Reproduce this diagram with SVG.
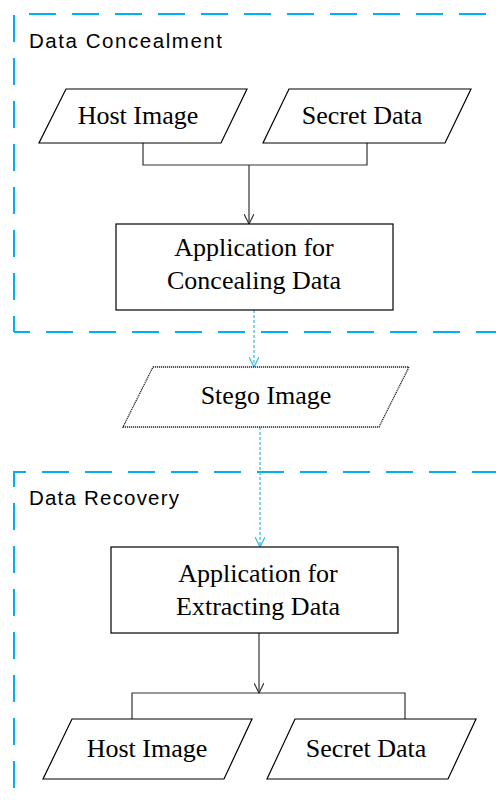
<svg xmlns="http://www.w3.org/2000/svg" width="496" height="800" viewBox="0 0 496 800">
<style>
.grp{fill:none;stroke:#00B0F0;stroke-width:2;stroke-dasharray:27 16;}
.lbl{font-family:"Liberation Sans","DejaVu Sans",sans-serif;font-size:20.5px;fill:#000;}
.shape{fill:#fff;stroke:#000;stroke-width:1.2;}
.dot{fill:#fff;stroke:#222;stroke-width:1.3;stroke-dasharray:1.2 0.8;}
.t{font-family:"Liberation Serif","Times New Roman",serif;font-size:26px;fill:#000;text-anchor:middle;}
.con{fill:none;stroke:#333;stroke-width:1.2;}
.dcon{fill:none;stroke:#2EB8F0;stroke-width:1.2;stroke-dasharray:3 2;}
</style>
<defs>
<marker id="arr" markerWidth="12" markerHeight="10" refX="10" refY="5" orient="auto" markerUnits="userSpaceOnUse">
<path d="M0,0 L10,5 L0,10" fill="none" stroke="#333" stroke-width="1.2"/>
</marker>
<marker id="arrb" markerWidth="12" markerHeight="10" refX="10" refY="5" orient="auto" markerUnits="userSpaceOnUse">
<path d="M0,0 L10,5 L0,10" fill="none" stroke="#2EB8F0" stroke-width="1.2"/>
</marker>
</defs>

<g id="group-concealment">
<path class="grp" d="M14,332 V14 H620" stroke-dashoffset="11"/>
<path class="grp" d="M14,332 H620" stroke-dashoffset="11"/>
<text class="lbl" x="29" y="48" textLength="193" lengthAdjust="spacing">Data Concealment</text>
</g>

<g id="group-recovery">
<path class="grp" d="M14,820 V472 H620" stroke-dashoffset="11"/>
<text class="lbl" x="29" y="505" textLength="150" lengthAdjust="spacing">Data Recovery</text>
</g>

<g id="connectors">
<path class="con" d="M143,143 V165 H367 V143"/>
<path class="con" d="M249,165 V224" marker-end="url(#arr)"/>
<path class="dcon" d="M254,310 V367" marker-end="url(#arrb)"/>
<path class="dcon" d="M260,427 V547" marker-end="url(#arrb)"/>
<path class="con" d="M259,633 V693" marker-end="url(#arr)"/>
<path class="con" d="M132,719 V693 H405 V719"/>
</g>

<g id="host-image-in">
<polygon class="shape" points="66,89 247,89 221,143 39,143"/>
<text class="t" x="138" y="124">Host Image</text>
</g>

<g id="secret-data-in">
<polygon class="shape" points="289,89 471,89 445,143 263,143"/>
<text class="t" x="362" y="124">Secret Data</text>
</g>

<g id="conceal-app">
<rect class="shape" x="116" y="224" width="277" height="86"/>
<text class="t" x="254" y="256">Application for</text>
<text class="t" x="254" y="289">Concealing Data</text>
</g>

<g id="stego-image">
<polygon class="dot" points="153,367 409,367 379,427 123,427"/>
<text class="t" x="266" y="404">Stego Image</text>
</g>

<g id="extract-app">
<rect class="shape" x="111" y="547" width="287" height="86"/>
<text class="t" x="258" y="582">Application for</text>
<text class="t" x="258" y="615">Extracting Data</text>
</g>

<g id="host-image-out">
<polygon class="shape" points="72,719 252,719 224,779 43,779"/>
<text class="t" x="147" y="757">Host Image</text>
</g>

<g id="secret-data-out">
<polygon class="shape" points="295,719 476,719 448,779 267,779"/>
<text class="t" x="366" y="757">Secret Data</text>
</g>
</svg>
